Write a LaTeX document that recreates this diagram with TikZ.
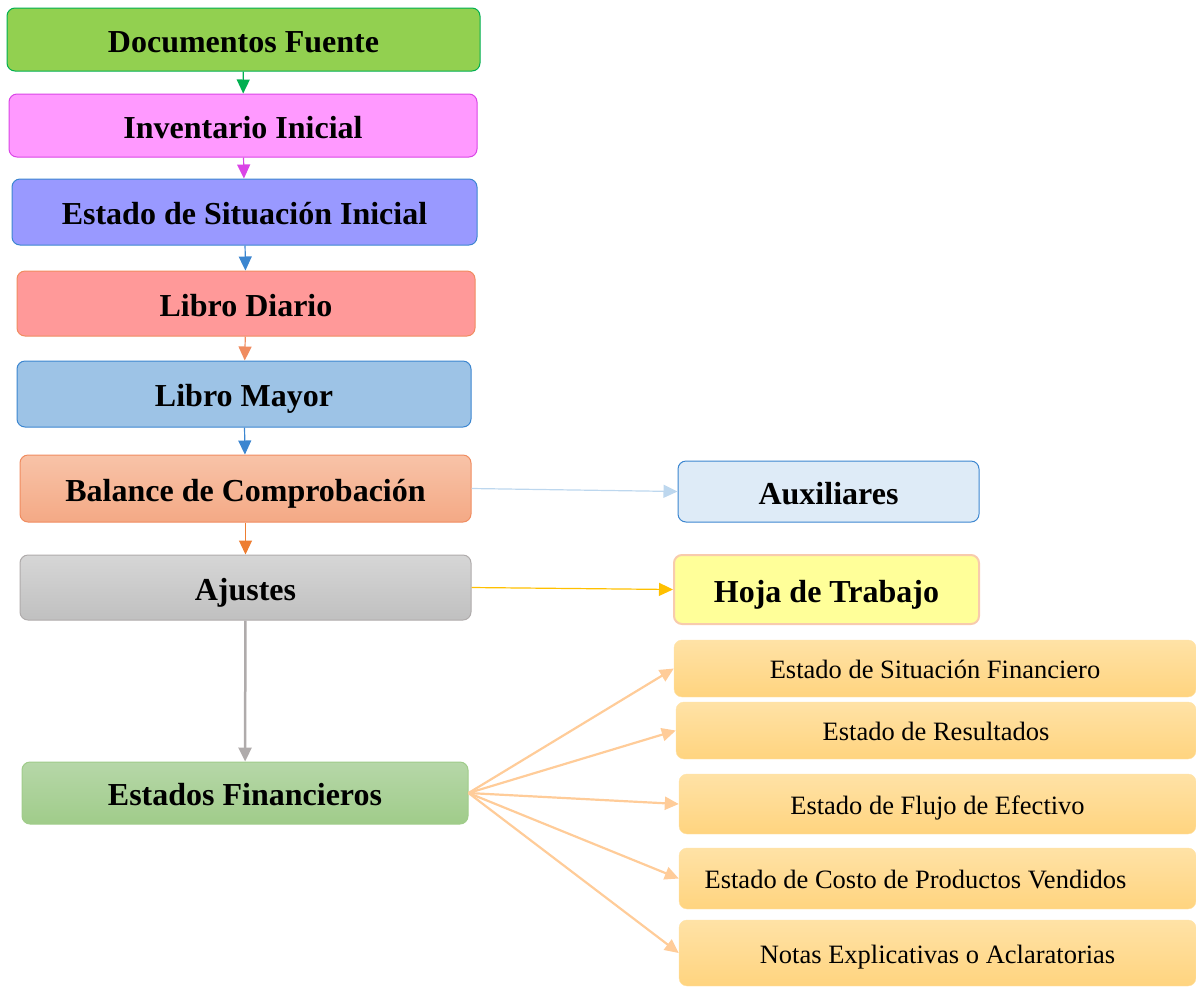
\documentclass[tikz,border=0pt]{standalone}
\usepackage{fontspec}
\setmainfont{Liberation Serif}
\usetikzlibrary{arrows.meta}

\definecolor{dfgreen}{HTML}{92D050}
\definecolor{dfline}{HTML}{00B050}
\definecolor{iipink}{HTML}{FF99FF}
\definecolor{iiline}{HTML}{DA45E6}
\definecolor{esiblue}{HTML}{9999FF}
\definecolor{blueline}{HTML}{3C86D0}
\definecolor{ldred}{HTML}{FF9999}
\definecolor{ldline}{HTML}{F08C60}
\definecolor{lmblue}{HTML}{9DC3E6}
\definecolor{bctop}{HTML}{F8C3A8}
\definecolor{bcbot}{HTML}{F4A985}
\definecolor{bcline}{HTML}{ED7D31}
\definecolor{ajtop}{HTML}{D6D6D6}
\definecolor{ajbot}{HTML}{C0C0C0}
\definecolor{ajline}{HTML}{AFABAB}
\definecolor{eftop}{HTML}{B6D7A8}
\definecolor{efbot}{HTML}{A0CC8A}
\definecolor{auxblue}{HTML}{DEEBF7}
\definecolor{auxline}{HTML}{BDD7EE}
\definecolor{htyellow}{HTML}{FFFF99}
\definecolor{htline}{HTML}{FFC000}
\definecolor{htborder}{HTML}{F8CBAD}
\definecolor{sttop}{HTML}{FFE2A6}
\definecolor{stbot}{HTML}{FFD47F}
\definecolor{stline}{HTML}{FFCC99}

\begin{document}
\begin{tikzpicture}[x=1pt,y=-1pt,
        box/.style={rectangle,rounded corners=8pt,line width=1pt,
            font=\fontsize{32}{38}\selectfont\bfseries,inner sep=0pt,
            text height=25pt,text depth=0pt},
        stbox/.style={rectangle,rounded corners=8pt,inner sep=0pt,
            top color=sttop,bottom color=stbot,draw=sttop,
            text height=20pt,text depth=0pt,
            minimum width=520pt,font=\fontsize{26.5}{32}\selectfont},
        tip/.style={-{Triangle[length=14pt,width=13pt]}}]
\useasboundingbox (0,0) rectangle (1196,986);

% main column
\node[box,fill=dfgreen,draw=dfline,minimum width=473pt,minimum height=63pt]
    (df) at (243.5,39.5) {Documentos Fuente};
\node[box,fill=iipink,draw=iiline,minimum width=468pt,minimum height=63pt]
    (ii) at (243,125.5) {Inventario Inicial};
\node[box,fill=esiblue,draw=blueline,minimum width=465pt,minimum height=66pt]
    (esi) at (244.5,212) {Estado de Situación Inicial};
\node[box,fill=ldred,draw=ldline,minimum width=458pt,minimum height=65pt]
    (ld) at (246,303.5) {Libro Diario};
\node[box,fill=lmblue,draw=blueline,minimum width=454pt,minimum height=66pt]
    (lm) at (244,394) {Libro Mayor};
\node[box,top color=bctop,bottom color=bcbot,draw=ldline,minimum width=451pt,minimum height=67pt]
    (bc) at (245.5,488.5) {Balance de Comprobación};
\node[box,top color=ajtop,bottom color=ajbot,draw=ajline,minimum width=451pt,minimum height=65pt]
    (aj) at (245.5,587.5) {Ajustes};
\node[box,top color=eftop,bottom color=efbot,draw=efbot,minimum width=446pt,minimum height=62pt]
    (ef) at (245,793) {Estados Financieros};

% side boxes
\node[box,fill=auxblue,draw=blueline,minimum width=301pt,minimum height=61pt]
    (aux) at (828.5,491.5) {Auxiliares};
\node[box,fill=htyellow,draw=htborder,line width=2pt,minimum width=305pt,minimum height=69pt]
    (ht) at (826.5,589.5) {Hoja de Trabajo};

% statements
\node[stbox,minimum width=522pt,minimum height=57pt] (sf) at (935,668.5) {Estado de Situación Financiero};
\node[stbox,minimum width=520pt,minimum height=57pt] (er) at (936,730.5) {Estado de Resultados};
\node[stbox,minimum width=517pt,minimum height=60pt] (fe) at (937.5,804) {Estado de Flujo de Efectivo};
\node[stbox,minimum width=517pt,minimum height=61pt] (cp) at (937.5,878.5) {Estado de Costo de Productos Vendidos\hspace*{44pt}};
\node[stbox,minimum width=517pt,minimum height=66pt] (ne) at (937.5,953) {Notas Explicativas o Aclaratorias};

\draw[tip,color=dfline,line width=1.2pt] (df) -- (ii);
\draw[tip,color=iiline,line width=1.2pt] (ii) -- (esi);
\draw[tip,color=blueline,line width=1.2pt] (esi) -- (ld);
\draw[tip,color=ldline,line width=1.2pt] (ld) -- (lm);
\draw[tip,color=blueline,line width=1.2pt] (lm) -- (bc);
\draw[tip,color=bcline,line width=1.2pt] (bc) -- (aj);
\draw[tip,color=ajline,line width=2.5pt] (aj) -- (ef);

\draw[tip,color=auxline,line width=1.2pt] (bc.east) -- (aux.west);
\draw[tip,color=htline,line width=1.2pt] (aj.east) -- (ht.west);

\draw[tip,color=stline,line width=2.2pt] (ef.east) -- (sf.west);
\draw[tip,color=stline,line width=2.2pt] (ef.east) -- (er.west);
\draw[tip,color=stline,line width=2.2pt] (ef.east) -- (fe.west);
\draw[tip,color=stline,line width=2.2pt] (ef.east) -- (cp.west);
\draw[tip,color=stline,line width=2.2pt] (ef.east) -- (ne.west);
\end{tikzpicture}
\end{document}
